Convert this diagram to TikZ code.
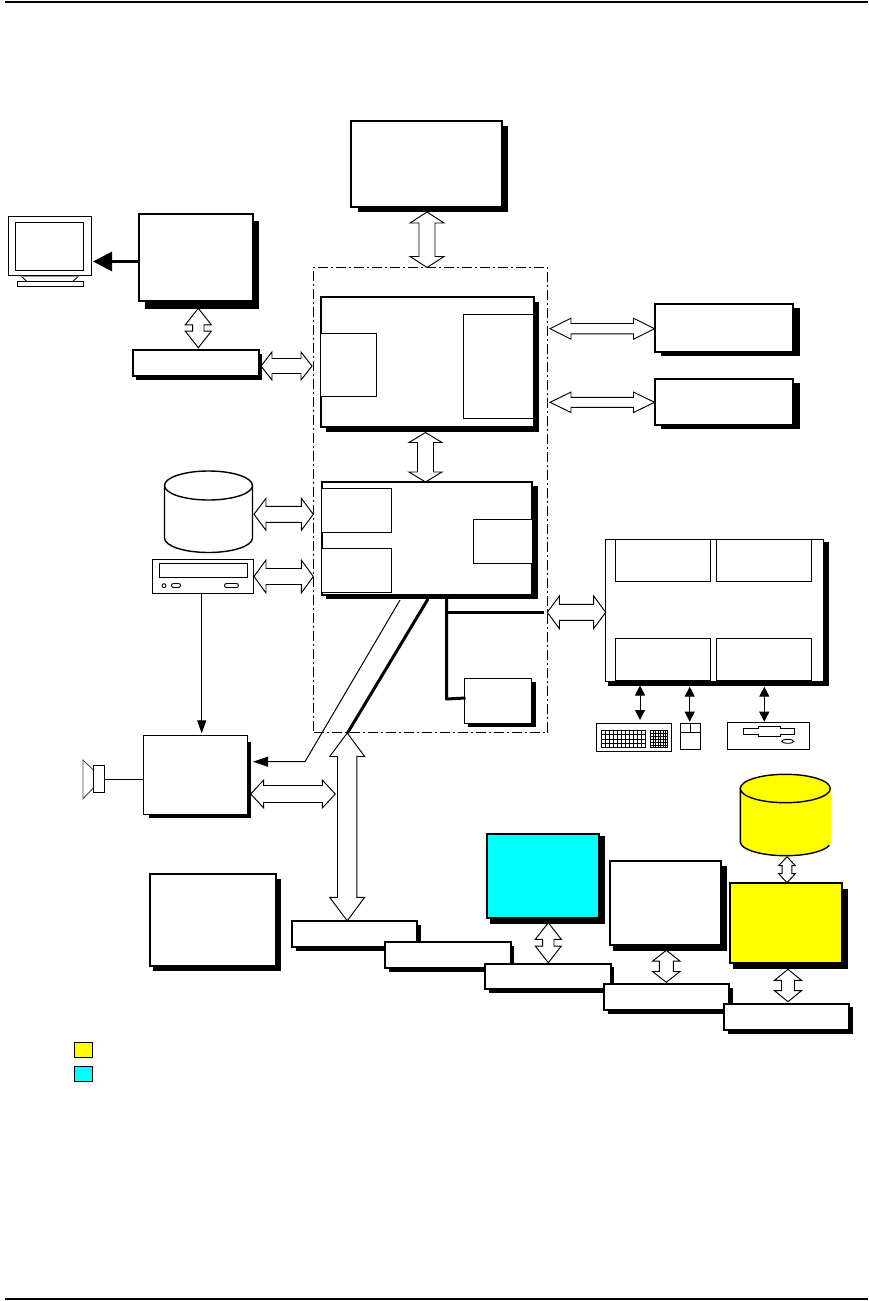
\documentclass[tikz,border=0pt]{standalone}
\usetikzlibrary{calc,fit,arrows.meta}
\definecolor{legY}{RGB}{255,255,0}
\definecolor{legC}{RGB}{0,255,255}
\tikzset{
  boxbase/.style={draw=black,fill=white,inner sep=0pt,outer sep=0pt,line width=1.9pt,rectangle},
  thinbox/.style={boxbase,line width=1.1pt},
  hollow/.style={draw=black,fill=white,line width=0.95pt,line join=miter},
  blackbus/.style={line width=3pt,draw=black},
  thinline/.style={line width=1pt,draw=black},
  frameline/.style={line width=0.9pt,draw=black,dash pattern=on 10pt off 3pt on 2pt off 3pt},
  tinytip/.style={line width=1pt,{Triangle[length=10pt,width=10pt]}-{Triangle[length=10pt,width=10pt]}},
  iconline/.style={line width=0.9pt,draw=black,fill=white},
  pagerule/.style={line width=2pt,draw=black},
}
% shadowed box: corners, shadow corners, name, style
\newcommand\shbox[6]{%
  \fill[black] #3 rectangle #4;
  \node[fit={#1 #2},#6] (#5) {};
}
\newcommand\ibox[4]{\node[fit={#2 #3},thinbox,#4] (#1) {};}
% hollow double arrows: name, x, y1, y2, head half, shaft half, head length
\newcommand\hollowV[7]{%
  \coordinate (#1a) at (#2,#3); \coordinate (#1b) at (#2,#4);
  \draw[hollow] (#1a) -- ($(#1a)+(#5,#7)$) -- ($(#1a)+(#6,#7)$) -- ($(#1b)+(#6,-#7)$) -- ($(#1b)+(#5,-#7)$) -- (#1b)
   -- ($(#1b)+(-#5,-#7)$) -- ($(#1b)+(-#6,-#7)$) -- ($(#1a)+(-#6,#7)$) -- ($(#1a)+(-#5,#7)$) -- cycle;
}
% name, y, x1, x2, head half, shaft half, head length
\newcommand\hollowH[7]{%
  \coordinate (#1a) at (#3,#2); \coordinate (#1b) at (#4,#2);
  \draw[hollow] (#1a) -- ($(#1a)+(#7,#5)$) -- ($(#1a)+(#7,#6)$) -- ($(#1b)+(-#7,#6)$) -- ($(#1b)+(-#7,#5)$) -- (#1b)
   -- ($(#1b)+(-#7,-#5)$) -- ($(#1b)+(-#7,-#6)$) -- ($(#1a)+(#7,-#6)$) -- ($(#1a)+(#7,-#5)$) -- cycle;
}
\begin{document}
\begin{tikzpicture}[x=1pt,y=-1pt]
\useasboundingbox (0,0) rectangle (868,1301);
\fill[white] (0,0) rectangle (868,1301);
% page rules
\coordinate (ruleTL) at (5,1.8); \coordinate (ruleTR) at (868,1.8);
\coordinate (ruleBL) at (5,1299.2); \coordinate (ruleBR) at (868,1299.2);
\draw[pagerule] (ruleTL) -- (ruleTR);
\draw[pagerule] (ruleBL) -- (ruleBR);

% chipset frame
\node[fit={(313.5,267.3) (547.5,732)},frameline,draw,inner sep=0pt,outer sep=0pt,rectangle] (frame) {};

% top box
\shbox{(350.8,120.8)}{(501.8,207)}{(358,126)}{(508,211.7)}{cpu}{boxbase}
\hollowV{cpuNb}{427}{212}{267.5}{17}{8}{11}

% north bridge
\shbox{(320.7,297)}{(534,427)}{(326,302)}{(538.7,431.7)}{north}{boxbase}
\ibox{nbL}{(320.7,333.3)}{(376.5,396.3)}{}
\ibox{nbR}{(463.3,314.3)}{(534,418.3)}{}
\hollowV{nbSb}{425.5}{432.5}{482}{16.5}{8}{10}

% south bridge
\shbox{(321.7,481.7)}{(532.3,595)}{(326,486)}{(538,599.3)}{south}{boxbase}
\ibox{sbA}{(321.7,488.3)}{(391.3,532.3)}{}
\ibox{sbB}{(321.7,548.3)}{(391.3,592.3)}{}
\ibox{sbC}{(473.3,519.3)}{(532.3,563.3)}{}

% small box in frame
\shbox{(464.3,678.3)}{(531.3,723.3)}{(468,682)}{(536,726.5)}{lan}{thinbox}

% buses from south bridge
\coordinate (busTop) at (446.5,599); \coordinate (busJoin) at (446.5,612.5);
\coordinate (busEnd) at (544,612.5); \coordinate (busLow) at (446.5,699);
\coordinate (busLan) at (465.5,698);
\draw[blackbus,line join=round] (busTop) -- (busLow) -- (busLan);
\draw[blackbus] (busJoin) -- (busEnd);
\coordinate (pciTop) at (428,599); \coordinate (pciTip) at (347.5,733);
\draw[blackbus] (pciTop) -- (pciTip);
\coordinate (sndTop) at (400,600); \coordinate (sndBend) at (305,761.7); \coordinate (sndTip) at (253,761.7);
\draw[thinline,-{Triangle[length=15pt,width=10pt]}] (sndTop) -- (sndBend) -- (sndTip);

% video
\shbox{(138.7,214.4)}{(252.7,301)}{(144.5,221)}{(259,308.7)}{video}{boxbase}
\shbox{(132.7,349.7)}{(258.7,376)}{(136,354)}{(261.7,380)}{agp}{boxbase}
\hollowV{vidAgp}{198.3}{308.3}{347.7}{13}{5.7}{16.5}
\hollowH{agpNb}{366}{261}{312}{14}{7.5}{11}
% monitor
\node[fit={(8.4,216.4) (91.3,275.7)},thinbox] (monitor) {};
\ibox{screen}{(15.3,222.4)}{(83.3,270.7)}{}
\ibox{mbase}{(17.5,281.7)}{(83.4,286.4)}{}
\draw[iconline] (21,275.7) -- (27,281.7);
\draw[iconline] (79,275.7) -- (72.5,281.7);
\draw[line width=1pt,draw=black!40] (21,276.5) -- (79,276.5);
\coordinate (vidOut) at (138.7,261.5); \coordinate (monIn) at (93,261.5);
\draw[blackbus,-{Triangle[length=19pt,width=19pt]}] (vidOut) -- (monIn);

% hard disk
\coordinate (hddC) at (208.5,485.5);
\fill[white] (164.5,485.5) -- (164.5,538) arc[start angle=180,end angle=360,x radius=44pt,y radius=14.5pt] -- (252.5,485.5) -- cycle;
\draw[line width=1.4pt] (164.5,485.5) -- (164.5,538) arc[start angle=180,end angle=360,x radius=44pt,y radius=14.5pt] -- (252.5,485.5);
\draw[line width=1.4pt,fill=white] (hddC) ellipse [x radius=44pt,y radius=14.5pt];
\hollowH{hddSb}{514.3}{254}{313.3}{16}{8}{12}
% CD drive
\node[fit={(152.3,559.3) (253.3,593.3)},thinbox] (cdrom) {};
\ibox{cdslot}{(159.3,563.3)}{(247.7,577.3)}{}
\draw[iconline] (164,585.7) circle (2pt);
\draw[iconline,rounded corners=2pt] (171.5,583.5) rectangle (180.5,587.5);
\draw[iconline,rounded corners=2pt] (224.5,583.5) rectangle (238.5,587.5);
\hollowH{cdSb}{576.5}{254}{313.3}{16.5}{8}{12}

% sound
\shbox{(143.3,735.3)}{(247.7,814.3)}{(149,742)}{(250.8,817.8)}{sound}{thinbox}
\coordinate (cdOut) at (201.7,593.3); \coordinate (sndIn) at (201.7,733.3);
\draw[thinline,-{Triangle[length=13pt,width=9pt]}] (cdOut) -- (sndIn);
\draw[line width=0.9pt,draw=black!70] (93.3,770) -- (83,760) -- (83,798.7) -- (93.3,788);
\ibox{magnet}{(93.3,765.3)}{(104.7,792.3)}{}
\coordinate (spk) at (104.7,779.3); \coordinate (sndL) at (143.3,779.3);
\draw[thinline] (spk) -- (sndL);
\hollowH{sndPci}{794}{250.7}{335.3}{14}{8.5}{13}

% right boxes
\shbox{(654.7,304.3)}{(793.3,351.7)}{(660.7,308)}{(799.7,356)}{memA}{boxbase}
\shbox{(654.7,378.7)}{(793.3,425)}{(660.7,382.5)}{(799.7,428.7)}{memB}{boxbase}
\hollowH{nbMemA}{328.7}{550}{654.5}{10.5}{5.2}{21}
\hollowH{nbMemB}{402.3}{550}{654.5}{10.2}{5}{21}

% I/O box
\shbox{(605.7,539.3)}{(823.3,681.7)}{(608,542)}{(828.7,686)}{sio}{thinbox}
\ibox{sioA}{(615.3,539.3)}{(710.7,581.3)}{}
\ibox{sioB}{(716.3,539.3)}{(811.3,581.3)}{}
\ibox{sioC}{(615.3,638.3)}{(710.7,680.5)}{}
\ibox{sioD}{(716.3,638.3)}{(811.3,680.5)}{}
\hollowH{sbSio}{612.3}{547.3}{605.7}{16.3}{8}{12}

% keyboard
\node[fit={(596.3,723.3) (671.7,751.3)},thinbox] (kbd) {};
\foreach \kx in {601.3,605.3,...,645.7} {\draw[line width=0.6pt] (\kx,730.3) -- (\kx,747.7);}
\foreach \ky in {730.3,734.7,739,743.3,747.7} {\draw[line width=0.6pt] (601.3,\ky) -- (645.7,\ky);}
\draw[line width=0.6pt] (645.7,730.3) -- (645.7,747.7);
\foreach \kx in {650.3,652.8,...,667.7} {\draw[line width=0.6pt] (\kx,730.3) -- (\kx,747.7);}
\foreach \ky in {730.3,733.2,736.1,739,741.9,744.8,747.7} {\draw[line width=0.6pt] (650.3,\ky) -- (667.7,\ky);}
\draw[line width=0.6pt] (667.7,730.3) -- (667.7,747.7);
% mouse
\node[fit={(680.3,723.3) (700.7,749.3)},thinbox] (mouse) {};
\draw[line width=0.9pt] (680.3,732.3) -- (700.7,732.3) (690.7,723.3) -- (690.7,732.3);
% floppy
\node[fit={(727.3,722.3) (809.7,749.3)},thinbox] (fdd) {};
\draw[iconline] (743.3,728.7) -- (758.3,728.7) -- (758.3,726) -- (780.7,726) -- (780.7,728.7) -- (794.7,728.7)
  -- (794.7,734.3) -- (780.7,734.3) -- (780.7,736.7) -- (758.3,736.7) -- (758.3,734.3) -- (743.3,734.3) -- cycle;
\draw[iconline] (787.7,741.3) ellipse [x radius=6pt,y radius=2pt];
\coordinate (kbT) at (640,685.5); \coordinate (kbB) at (640,720);
\coordinate (msT) at (689.7,686.7); \coordinate (msB) at (689.7,721.7);
\coordinate (fdT) at (764.3,686.7); \coordinate (fdB) at (764.3,721.7);
\draw[tinytip] (kbT) -- (kbB);
\draw[tinytip] (msT) -- (msB);
\draw[tinytip] (fdT) -- (fdB);

% left lower box
\shbox{(150,873.7)}{(276.3,966)}{(153,879)}{(281,970.7)}{pcmcia}{boxbase}

% slot chain
\shbox{(291.7,921.3)}{(417.3,947.3)}{(296,925)}{(421,950.7)}{slotA}{boxbase}
\shbox{(385,942.3)}{(510.7,968.3)}{(388.5,946)}{(514,971.7)}{slotB}{boxbase}
\shbox{(485.3,963.7)}{(610.7,989.3)}{(489,967)}{(614,992.7)}{slotC}{boxbase}
\shbox{(603.7,984.3)}{(729,1010.3)}{(607.5,988)}{(732.7,1014)}{slotD}{boxbase}
\shbox{(723.7,1003.7)}{(849.3,1030)}{(727.5,1007)}{(852.7,1033.7)}{slotE}{boxbase}
% PCI hollow arrow
\hollowV{pciBus}{347.2}{733}{920.8}{17.5}{9.7}{23.5}

% cyan
\shbox{(486.7,833.7)}{(599.3,918)}{(490,836)}{(605,923.7)}{cyanbox}{boxbase,fill=legC}
\hollowV{cyanSlot}{548.3}{922.7}{962.7}{13}{5.7}{16.6}
% white
\shbox{(609.7,860.7)}{(721.3,945)}{(613,866)}{(727,951)}{whitebox}{boxbase}
\hollowV{whiteSlot}{666.3}{950.3}{982.3}{13.7}{7}{10.8}
% yellow
\shbox{(729.7,882.7)}{(842.3,963)}{(733,888.7)}{(847.7,968.7)}{yelbox}{boxbase,fill=legY}
\hollowV{yelSlot}{788}{969.3}{1001.7}{13.5}{6.5}{11}
% yellow disk
\coordinate (ydC) at (785.3,788.5);
\fill[legY] (740.3,788.5) -- (740.3,841.7) arc[start angle=180,end angle=360,x radius=45.3pt,y radius=14pt] -- (831,788.5) -- cycle;
\draw[line width=1.4pt] (740.3,788.5) -- (740.3,841.7) arc[start angle=180,end angle=345,x radius=45.3pt,y radius=14pt];
\draw[line width=1.4pt,fill=legY] (ydC) ellipse [x radius=45pt,y radius=14.2pt];
\hollowV{ydYel}{787}{856.7}{882.7}{8.3}{4.8}{9}

% legend
\ibox{legendY}{(74.3,1042.3)}{(92.7,1057.3)}{fill=legY}
\ibox{legendC}{(74.3,1066.3)}{(92.7,1081.3)}{fill=legC}
\end{tikzpicture}
\end{document}
